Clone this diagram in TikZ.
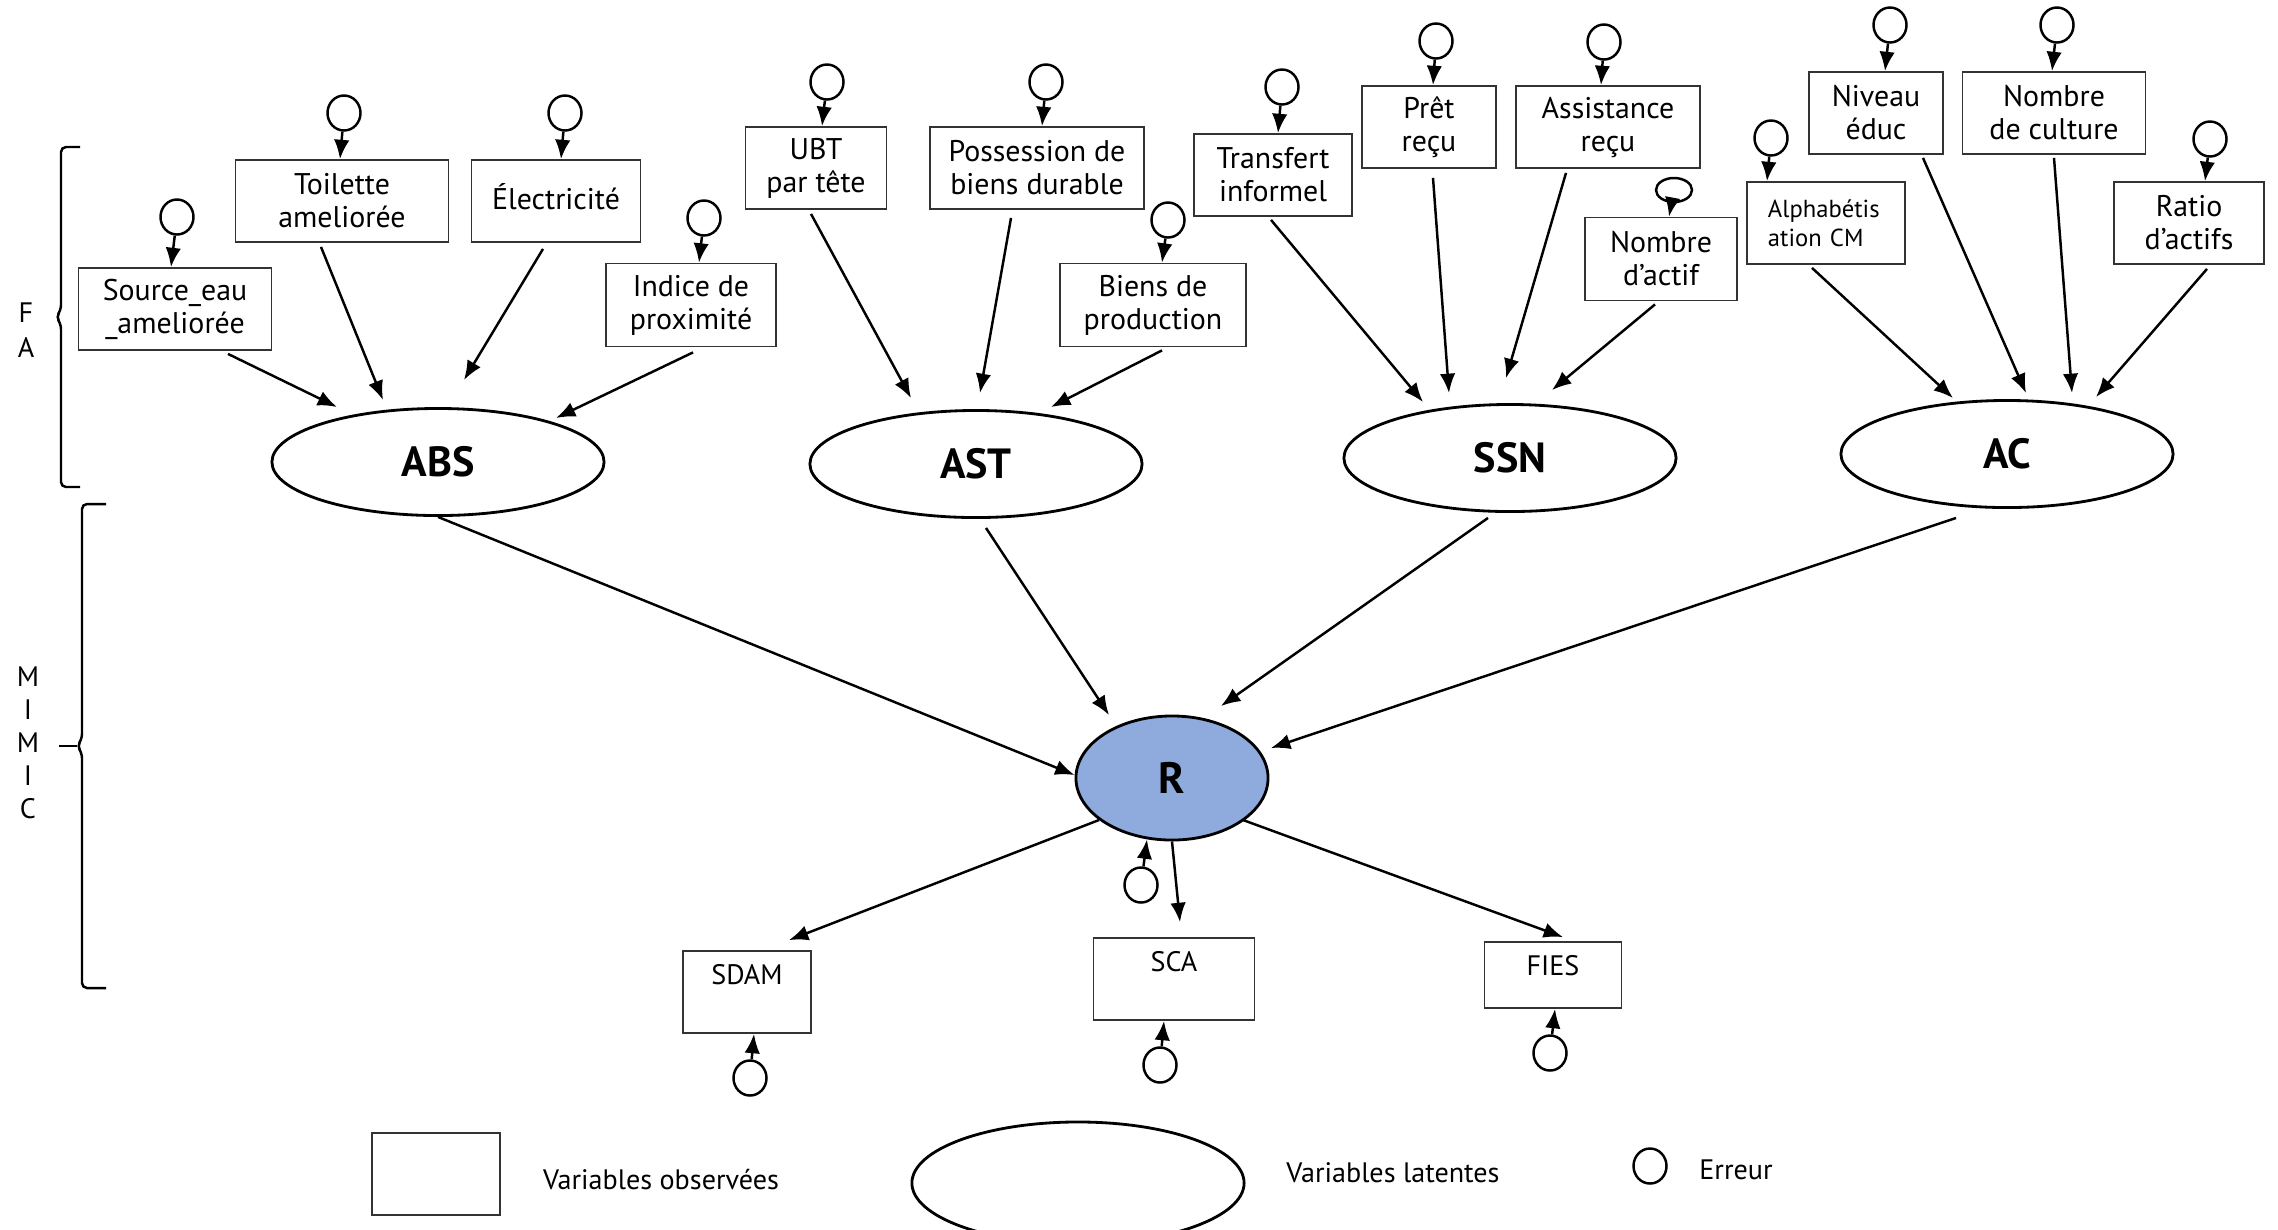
\documentclass[tikz,border=0pt]{standalone}
\usepackage{fontspec}
\setmainfont{PT Sans}
\usetikzlibrary{shapes.geometric,arrows.meta,positioning,calc}
\definecolor{rblue}{RGB}{143,170,220}

\begin{document}
\begin{tikzpicture}[x=0.01cm, y=-0.01cm,
	obs/.style={draw=black!80, line width=0.5pt, rectangle, inner sep=1pt, align=center, font=\fontsize{8.5}{9.4}\selectfont},
	lat/.style={draw, ellipse, line width=0.8pt, minimum width=3.32cm, minimum height=1.07cm, inner sep=0pt, font=\fontsize{12}{13}\selectfont\bfseries},
	err/.style={draw, ellipse, line width=0.7pt, minimum width=0.33cm, minimum height=0.35cm, inner sep=0pt},
	arr/.style={-{Latex[length=5.5pt,width=4.4pt]}, line width=0.7pt},
	lbl/.style={font=\fontsize{8}{9.4}\selectfont}]

	\useasboundingbox (0,0) rectangle (2278,1229);

	% ABS
	\node[obs, minimum width=1.93cm, minimum height=0.82cm] (src) at (175,309) {Source\_eau\\\_ameliorée};
	\node[obs, minimum width=2.13cm, minimum height=0.82cm] (toil) at (342,201) {Toilette\\ameliorée};
	\node[obs, minimum width=1.69cm, minimum height=0.82cm] (elec) at (556,201) {\raisebox{2.8pt}{Électricité}};
	\node[obs, minimum width=1.70cm, minimum height=0.83cm] (ind) at (691,305) {Indice de\\proximité};
	\node[lat] (abs) at (438,462) {ABS};

	% AST
	\node[obs, minimum width=1.41cm, minimum height=0.82cm] (ubt) at (816,168) {UBT\\par tête};
	\node[obs, minimum width=2.14cm, minimum height=0.82cm] (poss) at (1037,168) {Possession de\\biens durable};
	\node[obs, minimum width=1.86cm, minimum height=0.83cm] (bprod) at (1153,305) {Biens de\\production};
	\node[lat] (ast) at (976,464) {AST};

	% SSN
	\node[obs, minimum width=1.58cm, minimum height=0.82cm] (trans) at (1273,175) {Transfert\\informel};
	\node[obs, minimum width=1.34cm, minimum height=0.82cm] (pret) at (1429,127) {Prêt\\reçu};
	\node[obs, minimum width=1.84cm, minimum height=0.82cm] (assist) at (1608,127) {Assistance\\reçu};
	\node[obs, minimum width=1.52cm, minimum height=0.83cm] (nbact) at (1661,259) {Nombre\\d’actif};
	\node[lat] (ssn) at (1510,458) {SSN};

	% AC
	\node[obs, minimum width=1.58cm, minimum height=0.82cm, align=left, text width=1.16cm, font=\fontsize{7}{8.2}\selectfont] (alpha) at (1826,223) {Alphabétis\\ation CM};
	\node[obs, minimum width=1.34cm, minimum height=0.82cm] (niv) at (1876,113) {Niveau\\éduc};
	\node[obs, minimum width=1.83cm, minimum height=0.82cm] (ncult) at (2054,113) {Nombre\\de culture};
	\node[obs, minimum width=1.50cm, minimum height=0.82cm] (ratio) at (2189,223) {Ratio\\d’actifs};
	\node[lat] (ac) at (2007,454) {AC};

	% R et indicateurs
	\node[lat, fill=rblue, minimum width=1.92cm, minimum height=1.24cm, font=\fontsize{12.5}{14}\selectfont\bfseries] (r) at (1172,778) {R};
	\node[obs, minimum width=1.28cm, minimum height=0.82cm] (sdam) at (747,992) {};
	\node[obs, minimum width=1.61cm, minimum height=0.82cm] (sca) at (1174,979) {};
	\node[obs, minimum width=1.37cm, minimum height=0.66cm] (fies) at (1553,975) {};
	\node[lbl] (tsdam) at ($(sdam.north)+(0,25)$) {SDAM};
	\node[lbl] (tsca) at ($(sca.north)+(0,25)$) {SCA};
	\node[lbl] (tfies) at ($(fies.north)+(0,25)$) {FIES};

	% erreurs
	\node[err] (esrc) at (177,217) {};
	\node[err] (etoil) at (344,113) {};
	\node[err] (eelec) at (565,113) {};
	\node[err] (eind) at (704,218) {};
	\node[err] (eubt) at (827,82) {};
	\node[err] (eposs) at (1046,82) {};
	\node[err] (ebprod) at (1168,220) {};
	\node[err] (etrans) at (1282,87) {};
	\node[err] (epret) at (1436,41) {};
	\node[err] (eassist) at (1604,42) {};
	\node[err, minimum width=0.36cm, minimum height=0.24cm] (enbact) at (1674,190) {};
	\node[err] (ealpha) at (1771,138) {};
	\node[err] (eniv) at (1890,25) {};
	\node[err] (encult) at (2057,25) {};
	\node[err] (eratio) at (2210,139) {};
	\node[err] (er) at (1141,885) {};
	\node[err] (esdam) at (750,1078) {};
	\node[err] (esca) at (1160,1065) {};
	\node[err] (efies) at (1550,1053) {};

	\draw[arr] (esrc) -- ($(src.north)+(-4,0)$);
	\draw[arr] (etoil) -- ($(toil.north)+(-2,0)$);
	\draw[arr] (eelec) -- ($(elec.north)+(5,0)$);
	\draw[arr] (eind) -- ($(ind.north)+(8,0)$);
	\draw[arr] (eubt) -- ($(ubt.north)+(6,0)$);
	\draw[arr] (eposs) -- ($(poss.north)+(5,0)$);
	\draw[arr] (ebprod) -- ($(bprod.north)+(9,0)$);
	\draw[arr] (etrans) -- ($(trans.north)+(5,0)$);
	\draw[arr] (epret) -- ($(pret.north)+(4,0)$);
	\draw[arr] (eassist) -- ($(assist.north)+(-7,0)$);
	\draw[arr] (enbact) -- ($(nbact.north)+(8,0)$);
	\draw[arr] (ealpha) -- ($(alpha.north)+(-59,0)$);
	\draw[arr] (eniv) -- ($(niv.north)+(9,0)$);
	\draw[arr] (encult) -- ($(ncult.north)+(-2,0)$);
	\draw[arr] (eratio) -- ($(ratio.north)+(16,0)$);
	\draw[arr] (er) -- ($(r.south)+(-25,-2)$);
	\draw[arr] (esdam) -- ($(sdam.south)+(7,0)$);
	\draw[arr] (esca) -- ($(sca.south)+(-10,0)$);
	\draw[arr] (efies) -- ($(fies.south)+(2,0)$);

	% indicateurs -> latentes
	\draw[arr] ($(src.south)+(53,3)$) -- ($(abs)+(-101,-55)$);
	\draw[arr] ($(toil.south)+(-21,4)$) -- ($(abs)+(-55,-62)$);
	\draw[arr] ($(elec.south)+(-13,6)$) -- ($(abs)+(26,-82)$);
	\draw[arr] ($(ind.south)+(2,5)$) -- ($(abs)+(118,-44)$);
	\draw[arr] ($(ubt.south)+(-5,4)$) -- ($(ast)+(-65,-66)$);
	\draw[arr] ($(poss.south)+(-26,8)$) -- ($(ast)+(4,-71)$);
	\draw[arr] ($(bprod.south)+(9,3)$) -- ($(ast)+(75,-57)$);
	\draw[arr] ($(trans.south)+(-2,3)$) -- ($(ssn)+(-87,-56)$);
	\draw[arr] ($(pret.south)+(4,9)$) -- ($(ssn)+(-61,-65)$);
	\draw[arr] ($(assist.south)+(-42,4)$) -- ($(ssn)+(-4,-80)$);
	\draw[arr] ($(nbact.south)+(-6,3)$) -- ($(ssn)+(42,-68)$);
	\draw[arr] ($(alpha.south)+(-14,3)$) -- ($(ac)+(-54,-56)$);
	\draw[arr] ($(niv.south)+(47,3)$) -- ($(ac)+(19,-61)$);
	\draw[arr] ($(ncult.south)+(0,3)$) -- ($(ac)+(65,-61)$);
	\draw[arr] ($(ratio.south)+(18,4)$) -- ($(ac)+(89,-57)$);

	% latentes -> R -> indicateurs
	\draw[arr] (abs.south) -- ($(r.west)+(0,-3)$);
	\draw[arr] ($(ast.south)+(10,9)$) -- ($(r)+(-63,-63)$);
	\draw[arr] ($(ssn.south)+(-22,5)$) -- ($(r)+(49,-72)$);
	\draw[arr] ($(ac.south)+(-51,9)$) -- ($(r)+(99,-30)$);
	\draw[arr] ($(r)+(-73,42)$) -- ($(sdam.north)+(42,-10)$);
	\draw[arr] (r.south) -- ($(sca.north)+(6,-15)$);
	\draw[arr] ($(r)+(71,42)$) -- ($(fies.north)+(10,-4)$);

	% accolades
	\draw[line width=0.7pt, rounded corners=0.05cm] (80,147) -- (61,147) -- (61,310) -- (56,317) -- (61,324) -- (61,487) -- (80,487);
	\draw[line width=0.7pt, rounded corners=0.05cm] (106,504) -- (82,504) -- (82,739) -- (77,746) -- (82,753) -- (82,988) -- (106,988);
	\draw[line width=0.7pt] (59,746) -- (77,746);
	\node[lbl, align=center, font=\fontsize{8}{10}\selectfont] (fa) at (26,330) {F\\A};
	\node[lbl, align=center] (mimic) at (28,743) {M\\I\\M\\I\\C};

	% legende
	\node[obs, minimum width=1.28cm, minimum height=0.82cm] (legobs) at (436,1174) {};
	\node[lbl] (tobs) at (661,1180) {Variables observées};
	\node[lat, minimum height=1.22cm] (leglat) at (1078,1183) {};
	\node[lbl] (tlat) at (1393,1173) {Variables latentes};
	\node[err] (legerr) at (1650,1166) {};
	\node[lbl] (terr) at (1736,1170) {Erreur};
\end{tikzpicture}
\end{document}
